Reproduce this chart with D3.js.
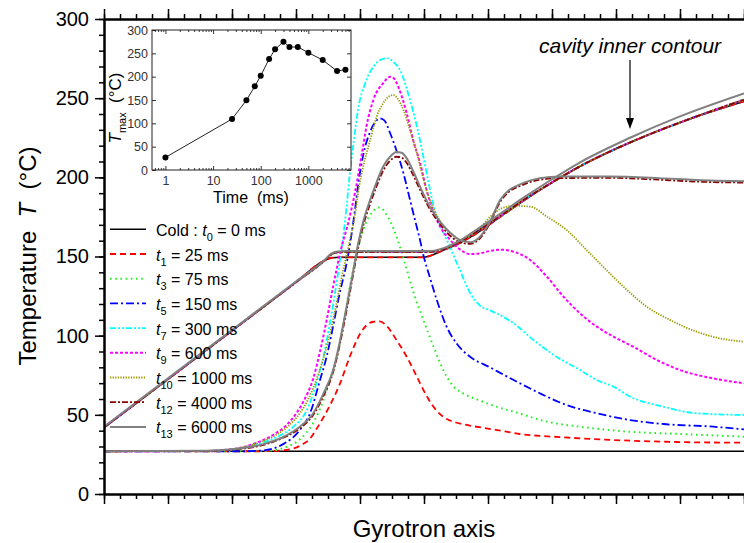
<!DOCTYPE html>
<html>
<head>
<meta charset="utf-8">
<script src="https://cdn.jsdelivr.net/npm/d3@7"></script>
<style>
  body { margin: 0; background: #fff; }
  svg { display: block; font-family: Arial, "Liberation Sans", sans-serif; }
  .ax .domain { stroke: #000; stroke-width: 2; }
  .ax line { stroke: #000; stroke-width: 1.5; }
  .ax text { font-size: 20px; fill: #000; }
  .inax .domain { display: none; }
  .inax line { stroke: #333; stroke-width: 1; }
  .inax text { font-size: 12.5px; fill: #333; }
</style>
</head>
<body>
<svg width="744" height="543"></svg>
<script>
// series: t index, time (ms)
let tIndex = ["0", "1", "3", "5", "7", "9", "10", "12", "13"];
let tTimes = [0, 25, 75, 150, 300, 600, 1000, 4000, 6000];

// cavity inner contour (x along gyrotron axis 0..100, T)
let contourCold = [[0,42],[10,72.6],[20,103.2],[30,133.8],[34.5,147.6],[35.6,149.2],[37,149.5],[49.9,149.5],[51,150.5],[52.5,153],[55.6,158.5],[58.75,166],[61.9,175],[65.5,185],[69.7,196],[74.4,207],[82.2,222],[91.6,237],[100,248]];
let contourHot = [[0,42],[10,72.6],[20,103.2],[30,133.8],[34.5,147.6],[35.5,151.3],[36.5,152.7],[38,153],[51,153],[52.5,154],[53.5,155.2],[55.6,159.3],[58.75,167],[61.9,175.5],[65.5,185.5],[69.7,196],[74.4,207],[82.2,222],[91.6,237],[100,249]];
let contourLate = [[0,42.5],[10,73],[20,103.6],[30,134.2],[34.5,148],[35.5,151.8],[36.5,153.2],[38,153.5],[51,153.5],[52.5,154.6],[55.6,160],[58.75,168.5],[61.9,177],[65.5,187],[69.7,198],[74.4,209.5],[82.2,225],[90,238.5],[100,253]];

// temperature profiles
let profT0 = [[0,27],[100,27]];
let profT1 = [[0,27],[24,27],[27,27.3],[29.6,28.8],[31.1,31.5],[32.2,35],[33.2,41],[34.3,48.5],[35.3,56],[36.9,70],[38.4,86.7],[40,101],[41,106.5],[42.1,108.8],[43.1,109],[44.2,106],[45.7,97.3],[47.3,86.7],[48.9,74],[50.4,62],[52,52.5],[53.5,47.5],[55.1,45],[56.7,43.6],[61.4,40.4],[65,37.9],[71.8,35.8],[79.6,34.1],[90,32.8],[100,32.4]];
let profT3 = [[0,27],[22,27],[26,27.4],[28,29],[30.6,34.5],[32.7,45],[34.3,59.4],[35.3,72],[36.4,86.7],[37.5,110],[38.6,135],[39.7,155],[40.8,170],[42,178.5],[43.1,181],[44.2,176],[45.2,168],[46.25,156],[47.3,142],[48.3,128],[49.9,110],[51.5,93],[53.5,74.5],[54.6,68],[56.1,63.6],[58.75,59],[61.4,55],[64,52],[69.2,45.7],[74.4,42.5],[82.2,39.3],[90,37.9],[100,36.2]];
let profT5 = [[0,27],[22,27],[25,27.6],[26.5,28.8],[28,31.5],[30.6,40.4],[32.2,51],[33.75,72],[34.8,87],[35.8,106],[36.6,122.5],[38.2,152],[39.2,179],[39.7,195],[40.5,214],[41.6,229],[42.5,235.5],[43.1,237.3],[43.8,236],[44.7,228],[45.7,217],[46.8,202.5],[47.8,186],[48.6,173],[49.4,160],[49.9,151],[50.9,137],[52,122.5],[53.5,106],[55.1,95],[57.2,86.7],[60.3,80],[64,72],[68.1,63.6],[72.3,56.2],[77,51],[82.2,46.7],[87.4,44.2],[95.2,42.5],[100,40.8]];
let profT7 = [[0,27],[16,27.2],[20,28.2],[23.9,31.5],[27,36],[29.6,42.5],[31.7,53],[33.2,70],[34.3,87],[35.3,108],[36.4,135],[37.3,160],[37.9,181.5],[38.4,202],[39,222],[39.7,243],[40.8,259.4],[42.1,270],[43.1,274],[44.2,275.3],[45.2,273],[46.25,267.8],[47.8,249],[48.9,232],[49.9,213],[50.9,193],[51.5,182],[52.5,170],[53.5,161],[55.6,141.5],[57.2,127],[58.75,119],[60.3,116],[61.4,114],[64,107.8],[67.1,97.3],[70.7,86.7],[74.4,78.3],[77,72],[79.6,67.8],[82.2,61.5],[87.4,55.1],[92.6,51],[100,49.9]];
let profT9 = [[0,27],[16,27.2],[20,28.3],[23.9,32.5],[26.5,37.5],[29.1,46],[31.1,58],[32.7,73],[33.75,90],[34.8,110],[35.8,131],[37,154],[38.2,172],[39.2,190],[40.3,215],[41,232],[42.1,249],[43.6,259.4],[44.7,263.5],[45.3,262.5],[46,257],[47.3,240.4],[48.3,223.6],[49.4,208.9],[50.4,192],[51.5,178],[52.5,169],[54.1,160.4],[55.6,154.5],[57.2,151.5],[58.75,152],[60.3,153.5],[61.9,154.3],[64,153],[66.6,147.8],[69.2,137.2],[71.8,124.6],[74.4,114],[77,105.7],[79.6,99.4],[82.7,93],[86.4,84.6],[90,78.3],[95.2,73],[100,69.9]];
let profT10 = [[0,27],[16,27.2],[20,28.2],[23.9,32],[26.5,36.5],[29.1,44],[31.1,54],[32.7,67],[34.3,86],[35.8,110],[37.3,140],[38.4,160],[39.2,176],[39.7,190],[40.5,206.7],[41.6,223.6],[42.6,238.3],[43.6,246.7],[44.5,251],[45.2,252],[46,249],[46.8,242.5],[47.8,230],[48.9,215.2],[49.9,199],[50.9,186],[52,176],[53,169.5],[54.6,163],[55.6,160.5],[56.7,162],[58.75,168],[60.3,175],[61.9,180],[64,182],[66.6,181.5],[69.2,175.2],[72.3,166.7],[75.4,154.1],[78.5,141.5],[81.7,128.9],[84.8,118.3],[88.4,110],[92.6,102.5],[96.25,98.3],[100,96.2]];
let profT12 = [[0,27],[16,27.2],[20,28],[24.9,31],[28,35.5],[30.6,41.5],[32.7,50],[34.3,62],[35.8,77],[36.9,95.5],[37.9,116],[38.9,138],[39.7,155.5],[40.5,169.5],[41.6,183.5],[42.6,194.5],[43.6,204],[44.7,210.5],[45.7,213],[46.5,212.5],[47.3,209],[48.3,201.5],[49.4,192],[50.9,180],[52.5,170.5],[54.1,163],[55.6,159],[57.2,158],[58.75,161.5],[60.3,171],[61.9,184.5],[63.3,191],[65,194.5],[68.1,198.5],[71.3,199.5],[79,199.7],[86.7,198.5],[92.5,197.3],[100,196.7]];
let profT13 = [[0,27],[16,27.3],[20,28.2],[24.9,31.5],[28,36],[30.6,42.5],[32.7,51],[34.3,63.6],[35.8,78.3],[36.9,97.3],[37.9,118.3],[38.9,140],[39.7,158],[40.5,172],[41.6,186],[42.6,197],[43.6,206.7],[44.7,213],[45.7,216],[46.5,215.5],[47.3,212],[48.3,204],[49.4,194],[50.9,181.5],[52.5,172],[54.1,165],[55.6,160.5],[57.2,159],[58.75,162.5],[60.3,172],[61.9,185.7],[63.3,192],[65,195.5],[68.1,199.5],[71.3,200.5],[79,200.5],[86.7,199.5],[92.5,198.3],[100,197.5]];

let profiles = [profT0, profT1, profT3, profT5, profT7, profT9, profT10, profT12, profT13];
let contours = [contourCold, contourCold, contourHot, contourHot, contourHot, contourHot, contourHot, contourHot, contourLate];

// inset: max temperature vs time
let inTimes = [1, 25, 50, 75, 100, 150, 200, 300, 400, 600, 1000, 2000, 4000, 6000];
let inTmax = [27, 109.3, 149.3, 179.3, 202, 237.9, 258.6, 275, 263.6, 263.6, 251.4, 235.7, 212, 215];

let yTicks = [0, 50, 100, 150, 200, 250, 300];
let inYTicks = [0, 50, 100, 150, 200, 250, 300];
let inXTicks = [1, 10, 100, 1000];

// styles
let colors = ["#000000", "#ff0000", "#22ee22", "#0000ff", "#00ffff", "#ff00ff", "#999900", "#8b0000", "#808080"];
let dashes = [null, "6,4", "1.6,3.6", "8,3,2,3", "6,2,2,2,2,2", "3,2", "1.3,1.3", "6,2,2,2", null];
let widths = [1.6, 1.8, 2, 1.8, 1.8, 2, 1.8, 1.8, 2];

let svg = d3.select("svg");
let x = d3.scaleLinear().domain([0, 100]).range([104, 744]);
let y = d3.scaleLinear().domain([0, 300]).range([494, 19]);

svg.append("defs").append("clipPath").attr("id", "plotclip")
    .append("rect").attr("x", 104).attr("y", 19).attr("width", 640).attr("height", 475);

let line = d3.line()
    .x(d => x(d[0]))
    .y(d => y(d[1]))
    .curve(d3.curveMonotoneX);

let plot = svg.append("g").attr("clip-path", "url(#plotclip)");
profiles.forEach((p, i) => {
    [contours[i], p].forEach(data => {
        plot.append("path")
            .attr("d", line(data))
            .attr("fill", "none")
            .attr("stroke", colors[i])
            .attr("stroke-width", widths[i])
            .attr("stroke-dasharray", dashes[i]);
    });
});

// main axes
let minorY = d3.range(0, 301, 10);
let xMajor = d3.range(0, 101, 10);
let xMinor = d3.range(0, 100.1, 2.5);

svg.append("g").attr("class", "ax").attr("transform", "translate(104,0)")
    .call(d3.axisLeft(y).tickValues(minorY).tickSize(5).tickFormat("").tickSizeOuter(0));
svg.append("g").attr("class", "ax").attr("transform", "translate(104,0)")
    .call(d3.axisLeft(y).tickValues(yTicks).tickSize(9).tickPadding(6).tickSizeOuter(0));

[[19, d3.axisTop], [494, d3.axisBottom]].forEach(([pos, ax]) => {
    svg.append("g").attr("class", "ax").attr("transform", `translate(0,${pos})`)
        .call(ax(x).tickValues(xMinor).tickSize(5).tickFormat("").tickSizeOuter(0));
    svg.append("g").attr("class", "ax").attr("transform", `translate(0,${pos})`)
        .call(ax(x).tickValues(xMajor).tickSize(10).tickFormat("").tickSizeOuter(0));
});

// axis titles
let yTitle = svg.append("text")
    .attr("transform", "translate(36,256) rotate(-90)")
    .attr("text-anchor", "middle")
    .attr("font-size", 24)
    .style("white-space", "pre");
yTitle.append("tspan").text("Temperature  ");
yTitle.append("tspan").attr("font-style", "italic").text("T");
yTitle.append("tspan").text("  (°C)");

svg.append("text")
    .attr("x", 424).attr("y", 537)
    .attr("text-anchor", "middle")
    .attr("font-size", 24)
    .text("Gyrotron axis");

// legend
let legend = svg.append("g");
tIndex.forEach((k, i) => {
    let ly = 229.3 + i * 24.7;
    legend.append("line")
        .attr("x1", 110).attr("x2", 146)
        .attr("y1", ly).attr("y2", ly)
        .attr("stroke", colors[i])
        .attr("stroke-width", widths[i])
        .attr("stroke-dasharray", dashes[i]);
    let t = legend.append("text")
        .attr("x", 156).attr("y", ly + 6.5)
        .attr("font-size", 16)
        .style("white-space", "pre");
    if (i === 0) t.append("tspan").text("Cold : ");
    t.append("tspan").attr("font-style", "italic").text("t");
    t.append("tspan").attr("font-size", 11).attr("dy", 5).text(k);
    t.append("tspan").attr("dy", -5).text(` = ${tTimes[i]} ms`);
});

// annotation
svg.append("text")
    .attr("x", 539).attr("y", 53)
    .attr("font-size", 21)
    .attr("font-style", "italic")
    .text("cavity inner contour");
svg.append("line")
    .attr("x1", 630).attr("x2", 630)
    .attr("y1", 60).attr("y2", 121)
    .attr("stroke", "#000").attr("stroke-width", 1.2);
svg.append("path")
    .attr("d", "M626,118L634,118L630,129Z")
    .attr("fill", "#000");

// inset
let xi = d3.scaleLog().domain([0.522, 7850]).range([152, 351]);
let yi = d3.scaleLinear().domain([0, 300]).range([170, 30]);

let inset = svg.append("g");
inset.append("rect")
    .attr("x", 152).attr("y", 30)
    .attr("width", 199).attr("height", 140)
    .attr("fill", "#fff");

let inMinorX = [];
[0.1, 1, 10, 100, 1000].forEach(d => {
    for (let m = 2; m <= 9; m++) {
        let v = d * m;
        if (v >= 0.522 && v <= 7850) inMinorX.push(v);
    }
});

inset.append("g").attr("class", "inax").attr("transform", "translate(0,170)")
    .call(d3.axisBottom(xi).tickValues(inXTicks).tickSize(-4).tickPadding(6).tickFormat(d3.format("d")));
inset.append("g").attr("class", "inax").attr("transform", "translate(0,170)")
    .call(d3.axisBottom(xi).tickValues(inMinorX).tickSize(-2).tickFormat(""));
inset.append("g").attr("class", "inax").attr("transform", "translate(0,30)")
    .call(d3.axisTop(xi).tickValues(inXTicks).tickSize(-4).tickFormat(""));
inset.append("g").attr("class", "inax").attr("transform", "translate(0,30)")
    .call(d3.axisTop(xi).tickValues(inMinorX).tickSize(-2).tickFormat(""));
inset.append("g").attr("class", "inax").attr("transform", "translate(152,0)")
    .call(d3.axisLeft(yi).tickValues(inYTicks).tickSize(-4).tickPadding(4));
inset.append("g").attr("class", "inax").attr("transform", "translate(351,0)")
    .call(d3.axisRight(yi).tickValues(inYTicks).tickSize(-4).tickFormat(""));

inset.append("rect")
    .attr("x", 152).attr("y", 30)
    .attr("width", 199).attr("height", 140)
    .attr("fill", "none")
    .attr("stroke", "#222")
    .attr("stroke-width", 1);

let inData = inTimes.map((t, i) => [t, inTmax[i]]);
inset.append("path")
    .attr("d", d3.line().x(d => xi(d[0])).y(d => yi(d[1]))(inData))
    .attr("fill", "none")
    .attr("stroke", "#222")
    .attr("stroke-width", 1);
inset.selectAll("circle")
    .data(inData)
    .enter().append("circle")
    .attr("cx", d => xi(d[0]))
    .attr("cy", d => yi(d[1]))
    .attr("r", 3)
    .attr("fill", "#000");

let iyTitle = inset.append("text")
    .attr("transform", "translate(121,108) rotate(-90)")
    .attr("text-anchor", "middle")
    .attr("font-size", 17)
    .style("white-space", "pre");
iyTitle.append("tspan").attr("font-style", "italic").text("T");
iyTitle.append("tspan").attr("font-size", 11).attr("dy", 5).text("max");
iyTitle.append("tspan").attr("dy", -5).text("  (°C)");

inset.append("text")
    .attr("x", 251).attr("y", 203)
    .attr("text-anchor", "middle")
    .attr("font-size", 16)
    .style("white-space", "pre")
    .text("Time  (ms)");
</script>
</body>
</html>
